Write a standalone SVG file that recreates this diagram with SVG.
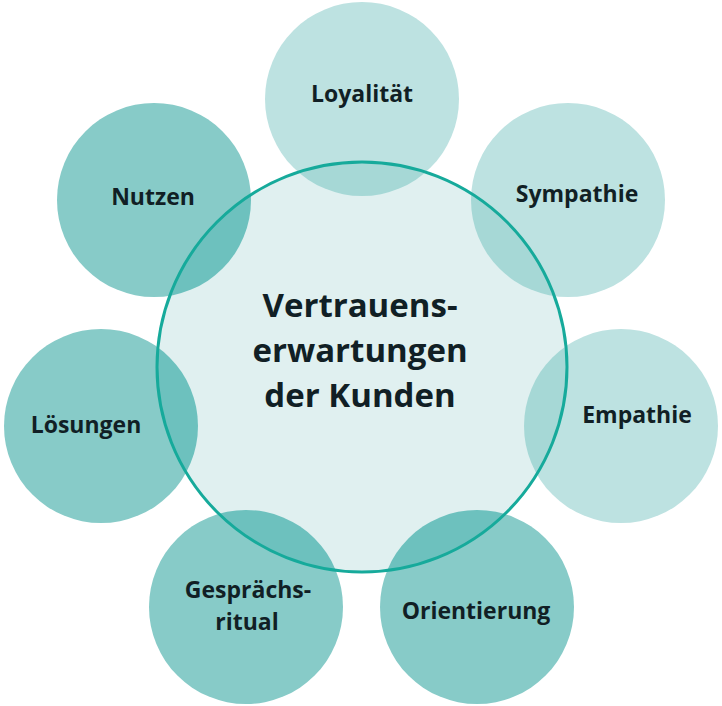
<svg xmlns="http://www.w3.org/2000/svg" width="722" height="706" viewBox="0 0 722 706">
<defs>
<clipPath id="inner"><circle cx="362" cy="367" r="205"/></clipPath>
</defs>
<style>
.light{fill:#bde2e1}
.dark{fill:#87cbc8}
.light-ov{fill:#a6d8d6}
.dark-ov{fill:#6dc1be}
.lbl{font-family:"Open Sans","Noto Sans","Liberation Sans",sans-serif;font-weight:700;font-size:23px;fill:#111f25;text-anchor:middle}
.big{font-family:"Open Sans","Noto Sans","Liberation Sans",sans-serif;font-weight:700;font-size:33px;fill:#111f25;text-anchor:middle}
</style>
<rect width="722" height="706" fill="#ffffff"/>
<g id="outer-circles">
<circle id="c-loyalitaet" class="light" cx="362" cy="99" r="97"/>
<circle id="c-sympathie" class="light" cx="568" cy="200" r="97"/>
<circle id="c-empathie" class="light" cx="621" cy="426" r="97"/>
<circle id="c-orientierung" class="dark" cx="477" cy="607" r="97"/>
<circle id="c-gespraechsritual" class="dark" cx="246" cy="607" r="97"/>
<circle id="c-loesungen" class="dark" cx="101" cy="426" r="97"/>
<circle id="c-nutzen" class="dark" cx="154" cy="200" r="97"/>
</g>
<g id="center">
<circle cx="362" cy="367" r="205" fill="#e0f0f0"/>
<g clip-path="url(#inner)">
<circle class="light-ov" cx="362" cy="99" r="97"/>
<circle class="light-ov" cx="568" cy="200" r="97"/>
<circle class="light-ov" cx="621" cy="426" r="97"/>
<circle class="dark-ov" cx="477" cy="607" r="97"/>
<circle class="dark-ov" cx="246" cy="607" r="97"/>
<circle class="dark-ov" cx="101" cy="426" r="97"/>
<circle class="dark-ov" cx="154" cy="200" r="97"/>
</g>
<circle cx="362" cy="367" r="205" fill="none" stroke="#16aa9b" stroke-width="3"/>
<text class="big" x="360" y="317">Vertrauens-</text>
<text class="big" x="360" y="362">erwartungen</text>
<text class="big" x="360" y="407">der Kunden</text>
</g>
<g id="labels">
<g id="n-loyalitaet"><text class="lbl" x="362" y="102">Loyalität</text></g>
<g id="n-sympathie"><text class="lbl" x="577" y="202">Sympathie</text></g>
<g id="n-empathie"><text class="lbl" x="637" y="423">Empathie</text></g>
<g id="n-orientierung"><text class="lbl" x="476" y="619">Orientierung</text></g>
<g id="n-gespraechsritual"><text class="lbl" x="248" y="598">Gesprächs-</text><text class="lbl" x="247" y="630">ritual</text></g>
<g id="n-loesungen"><text class="lbl" x="86" y="433">Lösungen</text></g>
<g id="n-nutzen"><text class="lbl" x="153" y="205">Nutzen</text></g>
</g>
<g id="connectors"></g>
</svg>
